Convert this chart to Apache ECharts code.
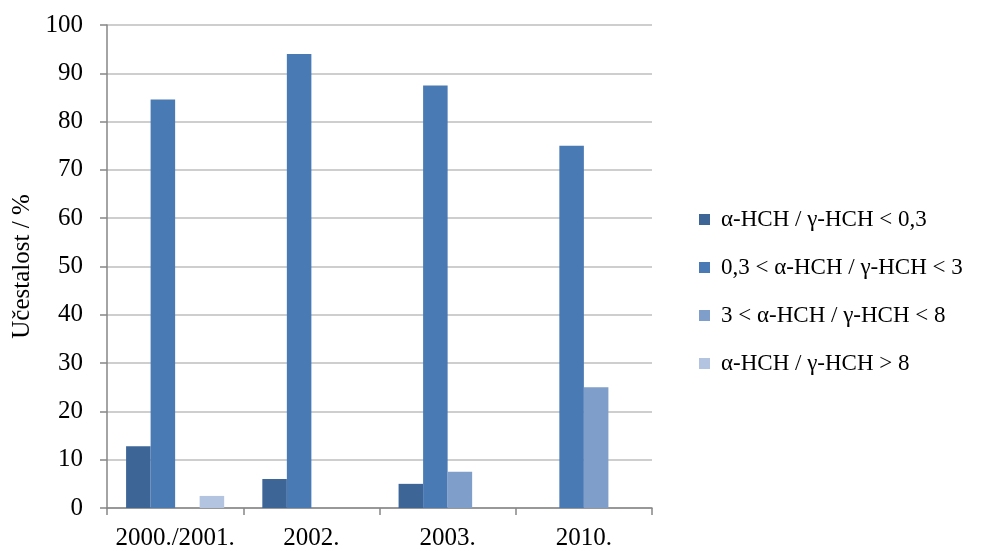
<!DOCTYPE html>
<html><head><meta charset="utf-8">
<script src="https://cdn.jsdelivr.net/npm/echarts@6/dist/echarts.min.js"></script>
<style>html,body{margin:0;padding:0;background:#fff}#c{width:1002px;height:551px}</style>
</head><body><div id="c"></div>
<script>
const categories = ['2000./2001.', '2002.', '2003.', '2010.'];
const seriesNames = ['α-HCH / γ-HCH < 0,3', '0,3 < α-HCH / γ-HCH < 3', '3 < α-HCH / γ-HCH < 8', 'α-HCH / γ-HCH > 8'];
const s1 = [12.8, 6.0, 5.0, 0];
const s2 = [84.6, 94.0, 87.5, 75.0];
const s3 = [0, 0, 7.5, 25.0];
const s4 = [2.5, 0, 0, 0];
const yTicks = [0, 10, 20, 30, 40, 50, 60, 70, 80, 90, 100];
const colors = ['#3D6697', '#4A7AB4', '#7F9ECA', '#B3C4E0'];
const font = 'Liberation Serif, Times New Roman, serif';
const allSeries = [s1, s2, s3, s4];
const chart = echarts.init(document.getElementById('c'));
chart.setOption({
  animation: false,
  textStyle: {fontFamily: font},
  grid: {left: 107, top: 25, width: 545, height: 483, containLabel: false},
  legend: {
    orient: 'vertical', left: 694, top: 203, itemGap: 25,
    itemWidth: 11, itemHeight: 11, icon: 'rect',
    textStyle: {fontFamily: font, fontSize: 23, color: '#000', padding: [0, 0, 0, 6]},
    data: seriesNames
  },
  xAxis: {
    type: 'category', data: categories,
    axisLine: {lineStyle: {color: '#868686', width: 1.5}},
    axisTick: {show: true, interval: 0, length: 7, lineStyle: {color: '#868686', width: 1.5}},
    axisLabel: {interval: 0, hideOverlap: false, fontFamily: font, fontSize: 25, color: '#000', margin: 18}
  },
  yAxis: {
    type: 'value', min: 0, max: 100, interval: 10,
    name: 'Učestalost / %', nameLocation: 'middle', nameGap: 71, nameRotate: 90,
    nameTextStyle: {fontFamily: font, fontSize: 25, color: '#000'},
    axisLine: {show: true, lineStyle: {color: '#868686', width: 1.5}},
    axisTick: {show: true, length: 7, lineStyle: {color: '#868686', width: 1.5}},
    axisLabel: {fontFamily: font, fontSize: 25, color: '#000', margin: 24,
      formatter: v => yTicks.includes(v) ? String(v) : ''},
    splitLine: {lineStyle: {color: '#BEBEBE', width: 1.5}}
  },
  series: seriesNames.map((n, i) => ({
    name: n, type: 'bar', data: allSeries[i],
    barGap: '0%', barCategoryGap: '28%',
    itemStyle: {color: colors[i]}
  }))
});
</script></body></html>
